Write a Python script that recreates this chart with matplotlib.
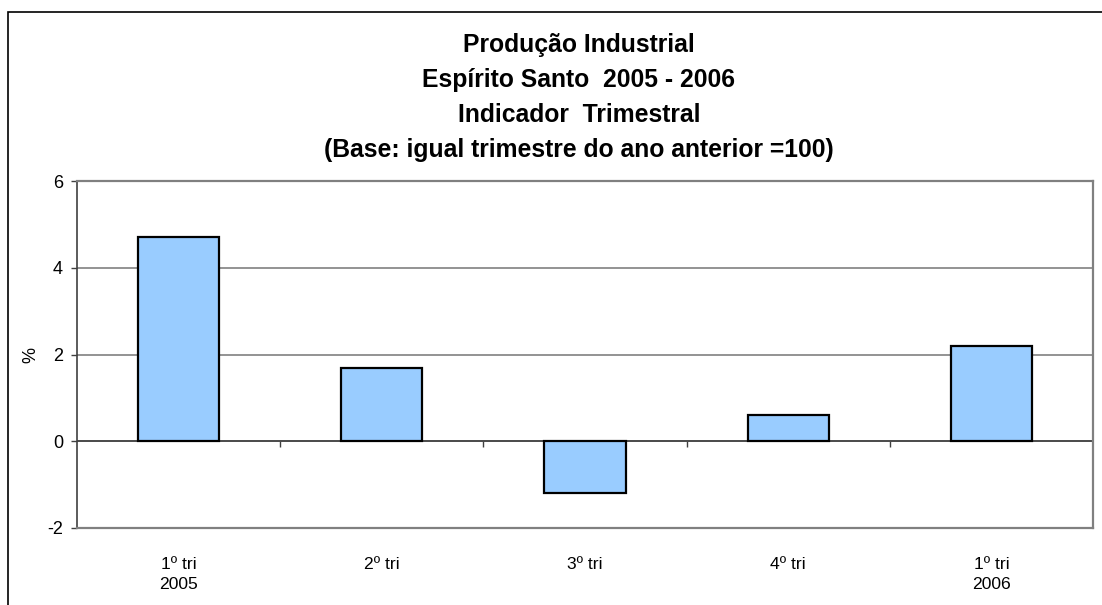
import matplotlib.pyplot as plt
from matplotlib.patches import Rectangle

plt.rcParams['font.family'] = ['Liberation Sans', 'DejaVu Sans']
plt.rcParams['axes.unicode_minus'] = False

# Produção industrial do ES, variação trimestral (%)
trimestres = ['1º tri\n2005', '2º tri', '3º tri', '4º tri', '1º tri\n2006']
variacao = [4.7, 1.7, -1.2, 0.6, 2.2]
y_ticks = [-2, 0, 2, 4, 6]
titulo = [
    'Produção Industrial',
    'Espírito Santo  2005 - 2006',
    'Indicador  Trimestral',
    '(Base: igual trimestre do ano anterior =100)',
]

W, H = 1102, 605
fig = plt.figure(figsize=(W / 100, H / 100), dpi=100, facecolor='w')

# moldura do gráfico (só esquerda e topo ficam visíveis)
fig.patches.append(Rectangle((8 / W, -0.1), 1.2, 1.1 - 12 / H, transform=fig.transFigure,
                             fill=False, edgecolor='black', lw=1.2))

ax = fig.add_axes([77 / W, (H - 528) / H, (1093 - 77) / W, (528 - 181) / H])
x = list(range(len(trimestres)))
ax.bar(x, variacao, width=0.4, color='#99CCFF', edgecolor='black', lw=1.6, zorder=3)

ax.set_xlim(-0.5, len(trimestres) - 0.5)
ax.set_ylim(y_ticks[0], y_ticks[-1])
ax.set_yticks(y_ticks)
ax.set_xticks(x)
ax.set_xticklabels(trimestres, fontsize=12.6, linespacing=1.4)
ax.tick_params(axis='x', length=0, pad=21)
ax.tick_params(axis='y', direction='out', length=4, width=1, color='#404040', labelsize=13, pad=6)

ax.grid(axis='y', color='#808080', lw=1.2, zorder=0)
ax.axhline(0, color='#404040', lw=1.2, zorder=2)

for side in ['top', 'right', 'bottom']:
    ax.spines[side].set_color('#808080')
    ax.spines[side].set_linewidth(1.6)
ax.spines['left'].set_color('#404040')
ax.spines['left'].set_linewidth(1.2)

# marcas de separação das categorias sobre a linha do zero
sec = ax.secondary_xaxis(0, transform=ax.transData)
sec.set_xticks([i + 0.5 for i in x[:-1]])
sec.set_xticklabels([])
sec.tick_params(direction='out', length=4, width=1, color='#404040')
sec.spines['bottom'].set_visible(False)

ax.set_ylabel('%', fontsize=13, labelpad=6)

for i, linha in enumerate(titulo):
    fig.text(579 / W, 1 - (52 + 35 * i) / H, linha, ha='center', va='baseline',
             fontsize=17.8, fontweight='bold')

fig.savefig('out.png', dpi=100, facecolor='w')
